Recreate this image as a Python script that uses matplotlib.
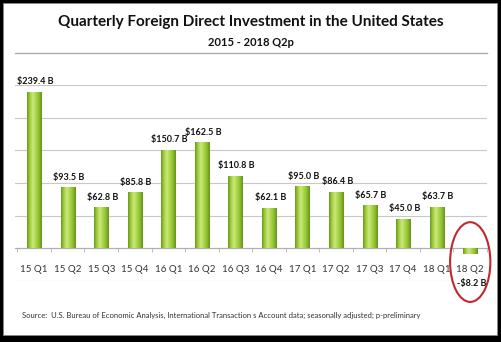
import numpy as np
import matplotlib
matplotlib.use("Agg")
import matplotlib.pyplot as plt
from matplotlib.patches import Rectangle, Ellipse
from matplotlib.lines import Line2D
from matplotlib.colors import LinearSegmentedColormap

categories = ["15 Q1", "15 Q2", "15 Q3", "15 Q4", "16 Q1", "16 Q2", "16 Q3",
              "16 Q4", "17 Q1", "17 Q2", "17 Q3", "17 Q4", "18 Q1", "18 Q2"]
values = [239.4, 93.5, 62.8, 85.8, 150.7, 162.5, 110.8,
          62.1, 95.0, 86.4, 65.7, 45.0, 63.7, -8.2]

title = "Quarterly Foreign Direct Investment in the United States"
subtitle = "2015 - 2018 Q2p"
source = ("Source:  U.S. Bureau of Economic Analysis, International Transaction s Account data; "
          "seasonally adjusted; p-preliminary")

W, H = 502, 342
fig = plt.figure(figsize=(W / 100, H / 100), dpi=100)

# outer black frame with shadow
fig.patches.append(Rectangle((0, 0), 1, 1, transform=fig.transFigure,
                             facecolor="black", edgecolor="none", zorder=-10))
fig.patches.append(Rectangle((3 / W, 7 / H), (497 - 3) / W, (339 - 7) / H,
                             transform=fig.transFigure, facecolor="white",
                             edgecolor="#888888", linewidth=0.6, zorder=-9))

fig.text(0.5, 1 - 22 / H, title, ha="center", va="center", fontsize=11,
         fontweight="bold", family="Lato", color="#111111")
fig.text(0.5, 1 - 42 / H, subtitle, ha="center", va="center", fontsize=8,
         fontweight="bold", family="Lato", color="#111111")
fig.add_artist(Line2D([15 / W, 487 / W], [1 - 53 / H, 1 - 53 / H],
                      transform=fig.transFigure, color="#aaaaaa", linewidth=1.0))
fig.text(22 / W, 1 - 315 / H, source, ha="left", va="center", fontsize=5.5,
         family="Lato", color="#333333")

ax = fig.add_axes([15 / W, 1 - 281 / H, (487 - 15) / W, (281 - 85) / H])
ax.set_facecolor("none")
ax.set_yticks(np.arange(-50, 251, 50))
ax.yaxis.grid(True, color="#c8c8c8", linewidth=0.8)
ax.set_axisbelow(True)
ax.tick_params(axis="y", length=0, labelleft=False)
for s in ["left", "right", "top"]:
    ax.spines[s].set_visible(False)
ax.spines["bottom"].set_position(("data", 0))
ax.spines["bottom"].set_color("#b0b0b0")
ax.spines["bottom"].set_linewidth(0.8)

x = np.arange(len(categories))
ax.set_xticks(x)
ax.set_xticklabels(categories, fontsize=7, family="Lato", color="#333333")
ax.tick_params(axis="x", which="major", length=0, pad=12)
ax.set_xticks(np.arange(-0.5, len(categories), 1), minor=True)
ax.tick_params(axis="x", which="minor", length=3, color="#b0b0b0", direction="out")

cmap = LinearSegmentedColormap.from_list(
    "cyl", ["#6a9a1c", "#a4d040", "#cbe87e", "#aad64a", "#8cbf30", "#66921a"])
grad = np.linspace(0, 1, 64).reshape(1, -1)
bw = 0.42
bars = ax.bar(x, values, width=bw, color="#8dc43a", edgecolor="none", zorder=2)
for b, v in zip(bars, values):
    x0 = b.get_x()
    im = ax.imshow(grad, cmap=cmap, aspect="auto", zorder=3,
                   extent=[x0, x0 + bw, min(0, v), max(0, v)])
    im.set_clip_path(b)
ax.set_xlim(-0.57, 13.5)
ax.set_ylim(-50, 250)

for xi, v in zip(x, values):
    if v >= 0:
        lab = r"\$%.1f B" % v
        ax.annotate(lab, (xi, v), xytext=(1, 4), textcoords="offset points",
                    ha="center", va="bottom", fontsize=6.5, fontweight="bold",
                    family="Lato", color="#111111")
    else:
        lab = r"-\$%.1f B" % abs(v)
        ax.annotate(lab, (xi, 0), xytext=(1, -25), textcoords="offset points",
                    ha="center", va="center", fontsize=6.5, fontweight="bold",
                    family="Lato", color="#111111")

# red circle highlighting the last quarter
ax.add_patch(Ellipse((13, -21), 1.2, 122, fill=False, edgecolor="#c0282d",
                     linewidth=1.5, clip_on=False, zorder=5))

fig.savefig("out.png", dpi=100)
